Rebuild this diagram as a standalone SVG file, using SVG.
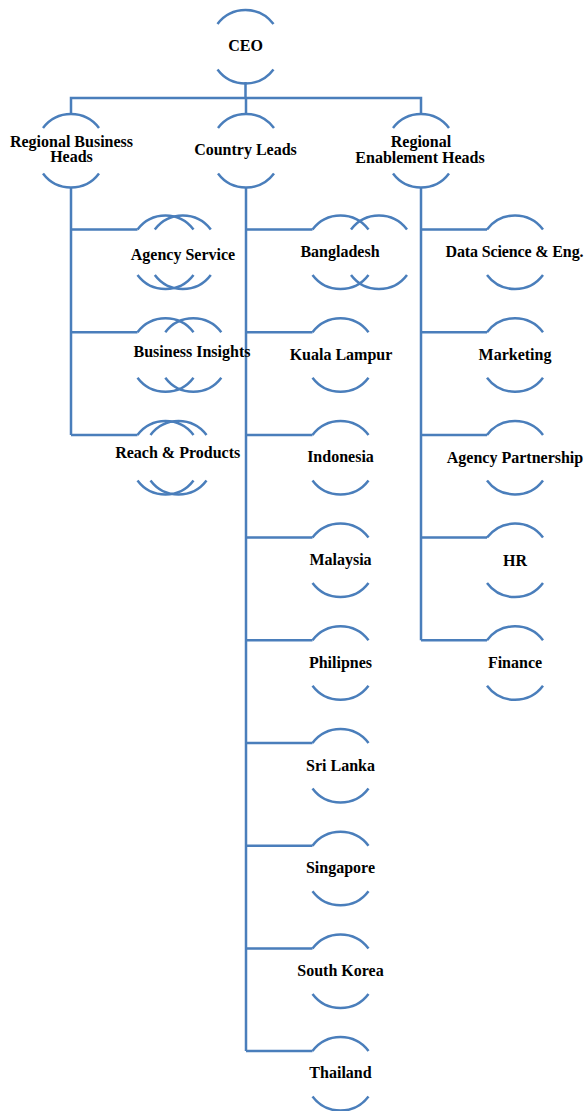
<svg xmlns="http://www.w3.org/2000/svg" xmlns:xlink="http://www.w3.org/1999/xlink" width="588" height="1111" viewBox="0 0 588 1111">
<style>
.ln{fill:none;stroke:#4a7ebb;stroke-width:2.5}
.lbl{font-family:"Liberation Serif","Times New Roman",serif;font-weight:bold;font-size:16px;text-anchor:middle;fill:#000}
</style>
<defs>
<path id="shape" class="ln" d="M-28,-22 A35,35 0 0 1 28,-22 M-28,23.5 A35,35 0 0 0 28,23.5"/>
</defs>
<rect width="588" height="1111" fill="#fff"/>
<g id="connectors" class="ln">
<path d="M245.5,82 V98 M71,114 V98 H421 V114 M246,98 V114"/>
<path d="M71,187.5 V434.9 M71,229.5 H137.5 M71,332.2 H137.5 M71,434.9 H137.5"/>
<path d="M246,187.5 V1051.1 M246,229.5 H312.5 M246,332.2 H312.5 M246,434.9 H312.5 M246,537.6 H312.5 M246,640.3 H312.5 M246,743 H312.5 M246,845.7 H312.5 M246,948.4 H312.5 M246,1051.1 H312.5"/>
<path d="M421,187.5 V640.3 M421,229.5 H487 M421,332.2 H487 M421,434.9 H487 M421,537.6 H487 M421,640.3 H487"/>
</g>
<g id="ceo"><use xlink:href="#shape" x="245.5" y="46"/><text class="lbl" x="245.5" y="51">CEO</text></g>
<g id="rbh"><use xlink:href="#shape" x="71" y="150"/><text class="lbl" x="71.5" y="147">Regional Business</text><text class="lbl" x="71.5" y="162">Heads</text></g>
<g id="cl"><use xlink:href="#shape" x="246" y="150"/><text class="lbl" x="245.5" y="155">Country Leads</text></g>
<g id="reh"><use xlink:href="#shape" x="421" y="150"/><text class="lbl" x="421" y="147">Regional</text><text class="lbl" x="420" y="162.5">Enablement Heads</text></g>

<g id="agency-service"><use xlink:href="#shape" x="165.5" y="251.5"/><use xlink:href="#shape" x="182.8" y="251.5"/><text class="lbl" x="183" y="260">Agency Service</text></g>
<g id="business-insights"><use xlink:href="#shape" x="165.5" y="354.2"/><use xlink:href="#shape" x="193.3" y="354.2"/><text class="lbl" x="192" y="357">Business Insights</text></g>
<g id="reach-products"><use xlink:href="#shape" x="165.5" y="456.9"/><use xlink:href="#shape" x="178.5" y="456.9"/><text class="lbl" x="177.7" y="457.5">Reach &amp; Products</text></g>

<g id="bangladesh"><use xlink:href="#shape" x="340.5" y="251.5"/><use xlink:href="#shape" x="379" y="251.5"/><text class="lbl" x="340" y="257">Bangladesh</text></g>
<g id="kuala-lampur"><use xlink:href="#shape" x="340.5" y="354.2"/><text class="lbl" x="341" y="360">Kuala Lampur</text></g>
<g id="indonesia"><use xlink:href="#shape" x="340.5" y="456.9"/><text class="lbl" x="340.5" y="462.4">Indonesia</text></g>
<g id="malaysia"><use xlink:href="#shape" x="340.5" y="559.6"/><text class="lbl" x="340.5" y="565.1">Malaysia</text></g>
<g id="philipnes"><use xlink:href="#shape" x="340.5" y="662.3"/><text class="lbl" x="340.5" y="667.8">Philipnes</text></g>
<g id="sri-lanka"><use xlink:href="#shape" x="340.5" y="765"/><text class="lbl" x="340.5" y="770.5">Sri Lanka</text></g>
<g id="singapore"><use xlink:href="#shape" x="340.5" y="867.7"/><text class="lbl" x="340.5" y="873.2">Singapore</text></g>
<g id="south-korea"><use xlink:href="#shape" x="340.5" y="970.4"/><text class="lbl" x="340.5" y="975.9">South Korea</text></g>
<g id="thailand"><use xlink:href="#shape" x="340.5" y="1073.1"/><text class="lbl" x="340.5" y="1078.4">Thailand</text></g>

<g id="data-science"><use xlink:href="#shape" x="515" y="251.5"/><text class="lbl" x="514.5" y="257" textLength="138" lengthAdjust="spacing">Data Science &amp; Eng.</text></g>
<g id="marketing"><use xlink:href="#shape" x="515" y="354.2"/><text class="lbl" x="515" y="360">Marketing</text></g>
<g id="agency-partnership"><use xlink:href="#shape" x="515" y="456.9"/><text class="lbl" x="515" y="463">Agency Partnership</text></g>
<g id="hr"><use xlink:href="#shape" x="515" y="559.6"/><text class="lbl" x="515" y="565.7">HR</text></g>
<g id="finance"><use xlink:href="#shape" x="515" y="662.3"/><text class="lbl" x="515" y="668.3">Finance</text></g>
</svg>
